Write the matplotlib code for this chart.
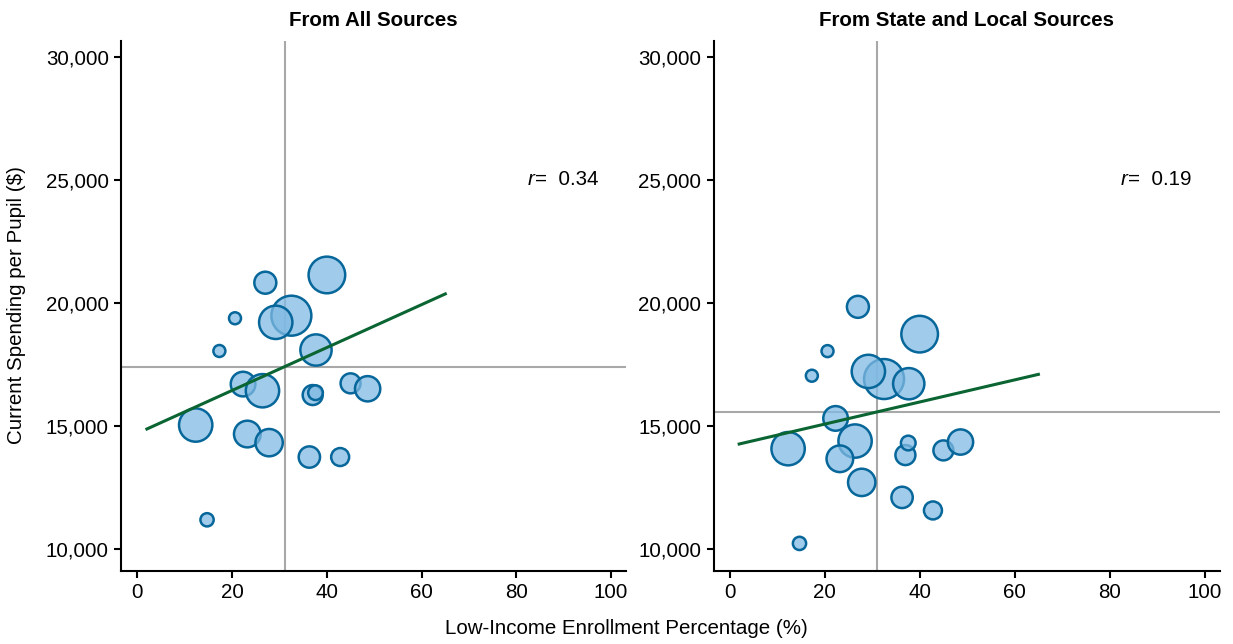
import matplotlib
matplotlib.use('Agg')
import matplotlib.pyplot as plt
import numpy as np

plt.rcParams['font.family'] = ['Liberation Sans', 'DejaVu Sans']

# low-income enrollment (%) per state
low_income = [40.0, 27.0, 32.5, 29.2, 20.6, 17.3, 37.7, 22.3, 26.4, 37.0,
              37.6, 45.0, 48.6, 12.3, 23.2, 27.8, 36.3, 42.8, 14.7]
# spending per pupil, all sources
spend_all = [21140, 20825, 19485, 19215, 19380, 18050, 18090, 16705, 16435, 16260,
             16355, 16735, 16515, 15040, 14675, 14325, 13740, 13740, 11190]
# spending per pupil, state and local sources
spend_state_local = [18735, 19845, 16910, 17220, 18045, 17045, 16720, 15310, 14390, 13820,
                     14310, 14010, 14350, 14080, 13670, 12710, 12100, 11570, 10230]
# relative enrollment (bubble size)
enrollment_size = [336, 121, 400, 278, 36, 36, 245, 152, 278, 100,
                   54, 100, 160, 278, 178, 187, 114, 81, 44]

titles = ['From All Sources', 'From State and Local Sources']
mean_x = [31.1, 31.1]
mean_y = [17400, 15560]
fit_x = [2, 65]
fit_y = [[14880, 20370], [14270, 17100]]
r_values = ['0.34', '0.19']

fill = (0.50, 0.73, 0.89, 0.75)
edge = '#07679a'
green = '#0b6533'
grey = '#a8a8a8'
fs = 14.8

fig = plt.figure(figsize=(12.33, 6.44), dpi=100)
ax1 = fig.add_axes([0.0984, 0.1134, 0.4095, 0.823])
ax2 = fig.add_axes([0.5787, 0.1134, 0.4106, 0.823])

for i, (ax, yvals) in enumerate(zip([ax1, ax2], [spend_all, spend_state_local])):
    ax.axvline(mean_x[i], color=grey, lw=1.5, zorder=1)
    ax.axhline(mean_y[i], color=grey, lw=1.5, zorder=1)
    sizes = np.array(enrollment_size) * 2.07
    ax.scatter(low_income, yvals, s=sizes, facecolors=[fill], edgecolors=edge,
               linewidths=1.8, zorder=2)
    ax.plot(fit_x, fit_y[i], color=green, lw=2.2, zorder=3)

    ax.set_xlim(-3.4, 103.2)
    ax.set_ylim(9110, 30650)
    ax.set_xticks([0, 20, 40, 60, 80, 100])
    ax.set_yticks([10000, 15000, 20000, 25000, 30000])
    ax.set_yticklabels(['{:,}'.format(v) for v in [10000, 15000, 20000, 25000, 30000]])
    for s in ['top', 'right']:
        ax.spines[s].set_visible(False)
    for s in ['left', 'bottom']:
        ax.spines[s].set_linewidth(1.5)
    ax.tick_params(labelsize=fs, length=5, width=1.5, pad=4)
    ax.set_title(titles[i], fontsize=fs, fontweight='bold', pad=11)

    t = ax.text(82.4, 25000, 'r', style='italic', fontsize=fs, va='center', ha='left')
    ax.annotate('=  ' + r_values[i], xy=(1, 0.5), xycoords=t, va='center', ha='left',
                fontsize=fs)

fig.text(0.508, 0.024, 'Low-Income Enrollment Percentage (%)', ha='center', va='center',
         fontsize=fs)
fig.text(0.013, 0.527, 'Current Spending per Pupil ($)', ha='center', va='center',
         rotation=90, fontsize=fs)

fig.savefig('out.png', dpi=100)
